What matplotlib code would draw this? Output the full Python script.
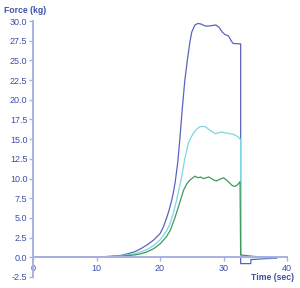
import matplotlib
matplotlib.use("Agg")
import matplotlib.pyplot as plt

# time (sec) and force (kg)
t_blue = [0, 8, 10, 12, 14, 16, 17, 18, 19, 20, 20.5, 21, 21.4, 21.8, 22.1, 22.4, 22.8, 23.1, 23.5,
          23.9, 24.3, 24.7, 25.0, 25.5, 26.0, 26.5, 27.0, 27.4, 28.0, 28.8, 29.3, 29.8, 30.2,
          30.8, 31.2, 31.5, 32.6, 32.7, 32.7, 34.3, 34.3, 36.0, 38.4]
f_blue = [0, 0, 0.02, 0.12, 0.25, 0.7, 1.1, 1.6, 2.2, 3.0, 3.8, 4.9, 5.9, 7.1, 8.2, 9.6, 12.1, 14.8, 18.8,
          22.4, 25.0, 27.3, 28.6, 29.5, 29.7, 29.6, 29.4, 29.35, 29.4, 29.5, 29.2, 28.6, 28.3,
          28.1, 27.5, 27.15, 27.1, 27.1, -0.8, -0.8, -0.3, -0.2, -0.1]

t_cyan = [0, 8, 10, 12, 14, 16, 17, 18, 19, 20, 21, 21.6, 22.1, 22.6, 23.0, 23.4, 23.9, 24.5,
          25.2, 25.7, 26.3, 27.1, 27.9, 28.7, 29.2, 29.7, 30.3, 31.0, 31.6, 32.3, 32.6, 32.7,
          32.7, 35.0, 38.0]
f_cyan = [0, 0, 0.02, 0.1, 0.2, 0.45, 0.7, 1.0, 1.5, 2.2, 3.3, 4.3, 5.6, 7.2, 8.7, 10.2, 12.5, 14.6,
          15.7, 16.2, 16.6, 16.6, 16.1, 15.7, 15.8, 15.9, 15.8, 15.7, 15.6, 15.3, 15.0, 15.0,
          0.0, -0.05, -0.05]

t_green = [0, 8, 10, 12, 14, 16, 17, 18, 19, 20, 21, 21.6, 22.3, 22.9, 23.7, 24.2, 24.7, 25.5,
           26.0, 26.4, 26.8, 27.3, 27.7, 28.1, 28.5, 28.9, 29.4, 30.0, 30.5, 31.0, 31.4, 31.8,
           32.2, 32.6, 32.7, 35.0, 38.0]
f_green = [0, 0, 0.01, 0.08, 0.15, 0.3, 0.45, 0.7, 1.1, 1.7, 2.6, 3.4, 4.9, 6.4, 8.5, 9.3, 9.8, 10.3,
           10.1, 10.2, 10.0, 10.1, 10.2, 10.0, 9.8, 9.7, 9.9, 10.1, 9.8, 9.4, 9.1, 9.0,
           9.2, 9.6, 0.3, 0.1, 0.0]

x_ticks = [0, 10, 20, 30, 40]
y_ticks = [-2.5, 0, 2.5, 5, 7.5, 10, 12.5, 15, 17.5, 20, 22.5, 25, 27.5, 30]

txt = "#3d4fa8"
axc = "#a9b1e0"

plt.rcParams["font.family"] = ["Liberation Sans", "DejaVu Sans"]

fig = plt.figure(figsize=(3.0, 2.88), dpi=100)
ax = fig.add_axes([0.11, 0.0382, 0.8467, 0.8888])

ax.plot(t_blue, f_blue, color="#5a64bd", lw=0.9)
ax.plot(t_cyan, f_cyan, color="#7fd6e2", lw=0.9)
ax.plot(t_green, f_green, color="#3e9a5c", lw=0.9)

ax.set_xlim(0, 40)
ax.set_ylim(-2.5, 30)

for s in ["top", "right"]:
    ax.spines[s].set_visible(False)
ax.spines["left"].set_position(("data", 0))
ax.spines["bottom"].set_position(("data", 0))
for s in ["left", "bottom"]:
    ax.spines[s].set_color(axc)
    ax.spines[s].set_linewidth(1.4)

ax.set_xticks(x_ticks)
ax.set_yticks(y_ticks)
ax.set_yticklabels(["%.1f" % v for v in y_ticks])
ax.tick_params(axis="both", colors=axc, labelcolor=txt, labelsize=6.5, length=3, width=1)
ax.tick_params(axis="x", pad=2)
ax.tick_params(axis="y", pad=1)

fig.text(0.013, 0.962, "Force (kg)", color=txt, fontsize=6.2, fontweight="bold", va="center")
fig.text(0.907, 0.038, "Time (sec)", color=txt, fontsize=6.2, fontweight="bold", ha="center", va="center")

fig.savefig("out.png", dpi=100)
